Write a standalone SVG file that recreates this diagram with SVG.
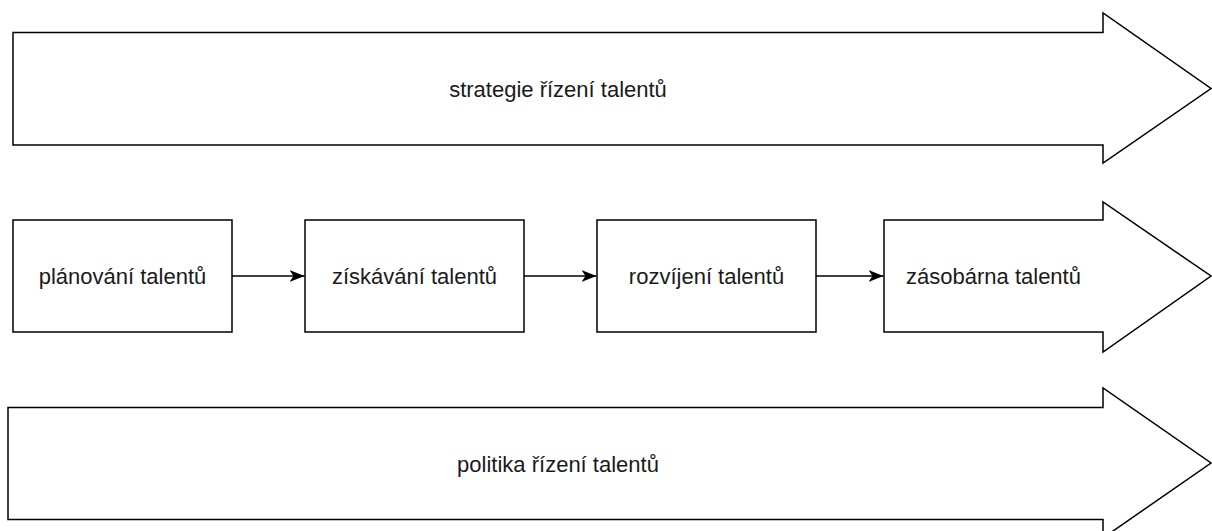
<svg xmlns="http://www.w3.org/2000/svg" width="1212" height="531" viewBox="0 0 1212 531">
<style>
.shape{fill:#fff;stroke:#000;stroke-width:1.5;stroke-linejoin:miter}
.lbl{font-family:"Liberation Sans",Arial,Helvetica,sans-serif;font-size:22px;fill:#1a1a1a;text-anchor:middle}
.conn{stroke:#000;stroke-width:1.5;fill:none}
</style>
<defs>
<marker id="ah" markerWidth="16" markerHeight="14" refX="15" refY="7" orient="auto" markerUnits="userSpaceOnUse">
<path d="M0,1 L15,7 L0,13 L4,7 Z" fill="#000"/>
</marker>
</defs>
<rect width="1212" height="531" fill="#fff"/>
<g id="strategie">
<polygon class="shape" points="13,32.5 1103,32.5 1103,13 1211,88.5 1103,163 1103,145 13,145"/>
<text class="lbl" x="558" y="97">strategie řízení talentů</text>
</g>
<g id="planovani">
<rect class="shape" x="13" y="220" width="219" height="112"/>
<text class="lbl" x="122.5" y="284">plánování talentů</text>
</g>
<g id="ziskavani">
<rect class="shape" x="305" y="220" width="219" height="112"/>
<text class="lbl" x="414.5" y="284">získávání talentů</text>
</g>
<g id="rozvijeni">
<rect class="shape" x="597" y="220" width="219" height="112"/>
<text class="lbl" x="706.5" y="284">rozvíjení talentů</text>
</g>
<g id="zasobarna">
<polygon class="shape" points="884,220 1103,220 1103,202 1211,276 1103,352 1103,332 884,332"/>
<text class="lbl" x="993.5" y="284">zásobárna talentů</text>
</g>
<g id="politika">
<polygon class="shape" points="8,407.5 1103,407.5 1103,388 1211,463 1103,538 1103,519.5 8,519.5"/>
<text class="lbl" x="558" y="472">politika řízení talentů</text>
</g>
<g id="connectors">
<line class="conn" x1="232" y1="276" x2="304.5" y2="276" marker-end="url(#ah)"/>
<line class="conn" x1="524" y1="276" x2="596.5" y2="276" marker-end="url(#ah)"/>
<line class="conn" x1="816" y1="276" x2="883.5" y2="276" marker-end="url(#ah)"/>
</g>
</svg>
